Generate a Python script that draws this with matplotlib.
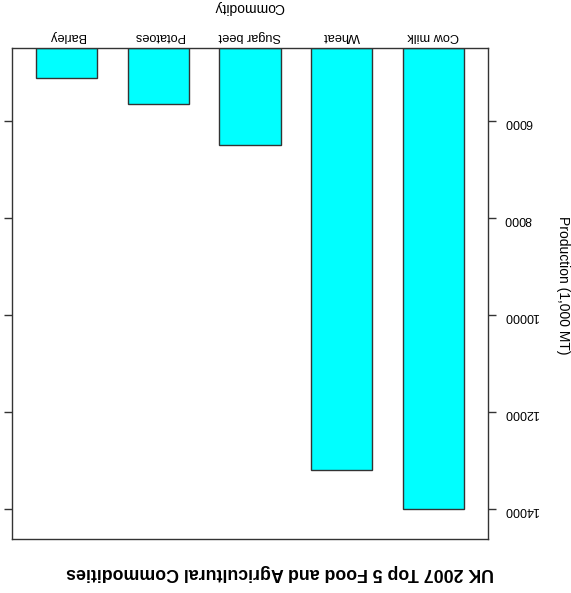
import numpy as np
import matplotlib
matplotlib.use("Agg")
import matplotlib.pyplot as plt

plt.rcParams['font.family'] = ['Liberation Sans', 'DejaVu Sans']

categories = ["Cow milk", "Wheat", "Sugar beet", "Potatoes", "Barley"]
production = [14005, 13200, 6500, 5655, 5118]
ytick_values = [6000, 8000, 10000, 12000, 14000]
title = "UK 2007 Top 5 Food and Agricultural Commodities"
xlabel = "Commodity"
ylabel = "Production (1,000 MT)"

W, H = 571, 593
fig = plt.figure(figsize=(W / 100, H / 100), dpi=100)
ax = fig.add_axes([12 / W, (H - 539) / H, 476 / W, 491 / H])

vals = np.array(production, dtype=float)
rng = vals.max() - vals.min()
lo = vals.min() - 0.07 * rng
hi = vals.max() + 0.07 * rng
x = np.arange(1, len(categories) + 1)

ax.bar(x, vals - lo, bottom=lo, width=2 / 3, color='#00FFFF',
       edgecolor='#333333', linewidth=1.0)
ax.set_xlim(len(categories) + 0.6, 0.4)
ax.set_ylim(hi, lo)

for s in ax.spines.values():
    s.set_color('#333333')
    s.set_linewidth(1.0)

ax.set_yticks(ytick_values)
ax.set_yticklabels([str(v) for v in ytick_values])
ax.tick_params(axis='y', left=True, right=True, labelleft=False, labelright=True,
               direction='out', length=5.8, width=1.0, pad=5.8, labelsize=9,
               labelrotation=180, color='#333333')
ax.set_xticks(x)
ax.set_xticklabels(categories)
ax.tick_params(axis='x', top=True, bottom=False, labeltop=True, labelbottom=False,
               length=0, pad=4, labelsize=9.2, labelrotation=180)

fig.text(0.49, 1 - 573 / H, title, rotation=180, ha='center', va='center',
         fontweight='bold', fontsize=12.8)
fig.text(249 / W, 1 - 7 / H, xlabel, rotation=180, ha='center', va='center', fontsize=10)
fig.text(563 / W, 1 - 285 / H, ylabel, rotation=270, ha='center', va='center', fontsize=10)

fig.savefig("out.png", dpi=100)
